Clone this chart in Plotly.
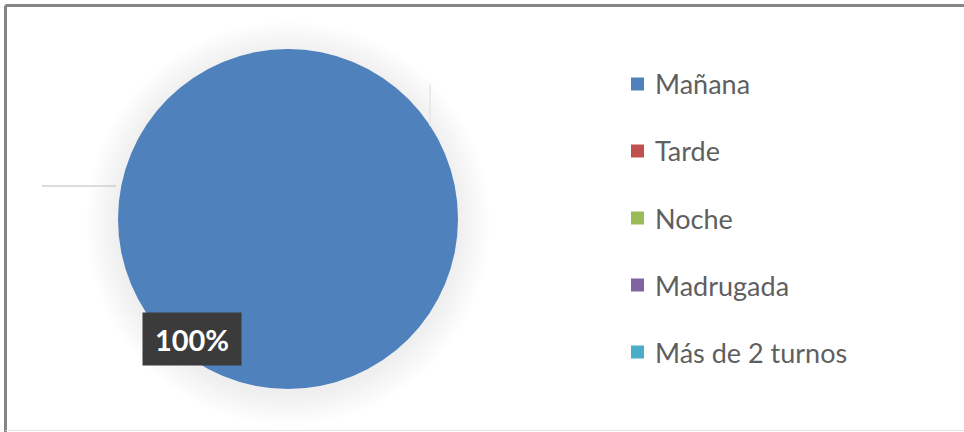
import plotly.graph_objects as go

# Shift distribution
categories = ["Mañana", "Tarde", "Noche", "Madrugada", "Más de 2 turnos"]
values = [100, 0, 0, 0, 0]
colors = ["#4F81BD", "#C0504D", "#9BBB59", "#8064A2", "#4BACC6"]

W, H = 964, 432

def px(x):
    return x / W

def py(y):
    return 1 - y / H

cx, cy, r = 288, 219, 170

fig = go.Figure()
fig.add_trace(go.Pie(
    labels=categories,
    values=values,
    marker=dict(colors=colors, line=dict(width=0)),
    sort=False,
    direction="clockwise",
    rotation=0,
    textinfo="none",
    hoverinfo="label+percent",
    showlegend=False,
    domain=dict(x=[px(cx - r), px(cx + r)], y=[py(cy + r), py(cy - r)]),
))

shapes = []
# soft halo around the pie
for k in range(16, 0, -1):
    rr = r + 2 * k
    shapes.append(dict(
        type="circle", xref="paper", yref="paper", layer="below",
        x0=px(cx - rr), x1=px(cx + rr), y0=py(cy + rr + 4), y1=py(cy - rr + 4),
        fillcolor="rgba(140,140,140,0.012)", line=dict(width=0),
    ))

# leftover leader lines
shapes.append(dict(type="line", xref="paper", yref="paper",
                   x0=px(42), x1=px(116), y0=py(186), y1=py(186),
                   line=dict(color="#d0d0d0", width=1.5)))
shapes.append(dict(type="line", xref="paper", yref="paper",
                   x0=px(430), x1=px(430), y0=py(84), y1=py(126),
                   line=dict(color="#e6e6e6", width=1.5)))

# chart frame
shapes.append(dict(type="line", xref="paper", yref="paper",
                   x0=px(5.5), x1=1.01, y0=py(5.5), y1=py(5.5),
                   line=dict(color="#858585", width=3)))
shapes.append(dict(type="line", xref="paper", yref="paper",
                   x0=px(5.5), x1=px(5.5), y0=py(5.5), y1=py(432),
                   line=dict(color="#858585", width=3)))
shapes.append(dict(type="line", xref="paper", yref="paper",
                   x0=px(5.5), x1=1.01, y0=py(430.5), y1=py(430.5),
                   line=dict(color="#e4e4e4", width=1)))

annotations = []
# legend built from the category list
leg_x, leg_y0, leg_dy, sq = 631, 84, 67, 13
for i, (name, col) in enumerate(zip(categories, colors)):
    yc = leg_y0 + i * leg_dy
    shapes.append(dict(type="rect", xref="paper", yref="paper",
                       x0=px(leg_x), x1=px(leg_x + sq),
                       y0=py(yc + sq / 2), y1=py(yc - sq / 2),
                       fillcolor=col, line=dict(width=0)))
    annotations.append(dict(
        x=px(leg_x + sq + 9), y=py(yc), xref="paper", yref="paper",
        xanchor="left", yanchor="middle", showarrow=False, text=name,
        font=dict(family="Lato", size=27, color="#5f5f5f"),
    ))

# data label for the full slice
total = sum(values)
pct = round(100 * values[0] / total)
annotations.append(dict(
    x=px(192), y=py(339), xref="paper", yref="paper",
    xanchor="center", yanchor="middle", showarrow=False,
    text=f"<b>{pct}%</b>",
    font=dict(family="Lato", size=29, color="white"),
    bgcolor="#3b3b3b", borderpad=8, width=82, height=36,
))

fig.update_layout(
    width=W, height=H,
    margin=dict(l=0, r=0, t=0, b=0),
    paper_bgcolor="white",
    plot_bgcolor="white",
    shapes=shapes,
    annotations=annotations,
)

fig.write_html("out.html")
